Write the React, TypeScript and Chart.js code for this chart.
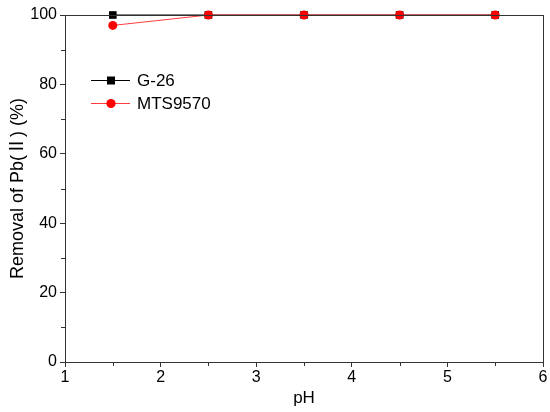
import React, { useEffect, useRef } from "react";
import { Chart, registerables } from "chart.js";

Chart.register(...registerables);

const phValues = [1.5, 2.5, 3.5, 4.5, 5.5];
const g26Values = [100, 100, 100, 100, 100];
const mtsValues = [97, 100, 100, 100, 100];
const seriesNames = ["G-26", "MTS9570"];
const xTitle = "pH";
const yTitle = "Removal of Pb(Ⅱ) (%)";

const FONT = "'Liberation Sans', Arial, 'Noto Sans CJK SC', sans-serif";

const framePlugin = {
  id: "frame",
  afterDraw(chart: any) {
    const { ctx, chartArea } = chart;
    const xs = chart.scales.x;
    const ys = chart.scales.y;
    ctx.save();
    ctx.fillStyle = "#333333";
    const L = Math.round(chartArea.left);
    const R = Math.round(chartArea.right);
    const T = Math.round(chartArea.top);
    const B = Math.round(chartArea.bottom);
    // frame top & right
    ctx.fillRect(L, T, R - L + 1, 1);
    ctx.fillRect(R, T, 1, B - T + 1);
    // minor ticks
    for (let v = 1.5; v < 6; v += 1) {
      const px = Math.round(xs.getPixelForValue(v));
      ctx.fillRect(px, B, 1, 4);
    }
    for (let v = 10; v < 100; v += 20) {
      const py = Math.round(ys.getPixelForValue(v));
      ctx.fillRect(L - 4, py, 4, 1);
    }
    ctx.restore();

    // legend
    const items = chart.data.datasets;
    const lx0 = 91;
    const lx1 = 130;
    const rows = [80, 103];
    items.forEach((ds: any, i: number) => {
      const y = rows[i];
      ctx.save();
      ctx.fillStyle = ds.borderColor;
      ctx.fillRect(lx0, y, lx1 - lx0, 1);
      ctx.fillStyle = ds.pointBackgroundColor;
      if (ds.pointStyle === "rect") {
        ctx.fillRect(111 - 4, y - 3.5, 8, 8);
      } else {
        ctx.beginPath();
        ctx.arc(111, y + 0.5, 4.6, 0, Math.PI * 2);
        ctx.fill();
      }
      ctx.fillStyle = "#000";
      ctx.font = "17px " + FONT;
      ctx.textBaseline = "middle";
      ctx.textAlign = "left";
      ctx.fillText(ds.label, 137, y + 1);
      ctx.restore();
    });
  },
};

export default function App() {
  const ref = useRef<HTMLCanvasElement | null>(null);
  useEffect(() => {
    if (!ref.current) return;
    const chart = new Chart(ref.current, {
      type: "scatter",
      data: {
        datasets: [
          {
            label: seriesNames[0],
            data: phValues.map((x, i) => ({ x, y: g26Values[i] })),
            showLine: true,
            clip: false,
            borderColor: "#000000",
            backgroundColor: "#000000",
            pointBackgroundColor: "#000000",
            pointBorderColor: "#000000",
            pointStyle: "rect",
            pointRadius: 5.4,
            borderWidth: 1,
            pointBorderWidth: 0,
            order: 1,
          },
          {
            label: seriesNames[1],
            data: phValues.map((x, i) => ({ x, y: mtsValues[i] })),
            showLine: true,
            clip: false,
            borderColor: "#ff3b3b",
            backgroundColor: "#ff0000",
            pointBackgroundColor: "#ff0000",
            pointBorderColor: "#ff0000",
            pointStyle: "circle",
            pointRadius: 4.5,
            borderWidth: 1,
            pointBorderWidth: 0,
            order: 0,
          },
        ],
      },
      options: {
        animation: false,
        responsive: false,
        maintainAspectRatio: false,
        layout: { padding: { top: 15, right: 7, left: 0, bottom: 0 } },
        plugins: { legend: { display: false }, tooltip: { enabled: false } },
        scales: {
          x: {
            type: "linear",
            min: 1,
            max: 6,
            afterFit: (s: any) => {
              s.height = 412 - 362;
            },
            ticks: { stepSize: 1, color: "#000", font: { size: 16, family: FONT }, padding: 1, maxRotation: 0 },
            grid: { drawOnChartArea: false, drawTicks: true, tickLength: 5, color: "#333333" },
            border: { display: true, color: "#333333", width: 1 },
            title: { display: true, text: xTitle, color: "#000", font: { size: 17, family: FONT }, padding: { top: 0, bottom: 3 } },
          },
          y: {
            min: 0,
            max: 100,
            afterFit: (s: any) => {
              s.width = 65;
            },
            ticks: { stepSize: 20, color: "#000", font: { size: 16, family: FONT }, padding: 3 },
            grid: { drawOnChartArea: false, drawTicks: true, tickLength: 5, color: "#333333" },
            border: { display: true, color: "#333333", width: 1 },
            title: { display: true, text: yTitle, color: "#000", font: { size: 18, family: FONT }, padding: { top: 7, bottom: 0 } },
          },
        },
      },
      plugins: [framePlugin],
    });
    return () => chart.destroy();
  }, []);
  return (
    <div style={{ position: "fixed", left: 0, top: 0, width: 550, height: 412, background: "#fff" }}>
      <canvas ref={ref} width={550} height={412} style={{ width: 550, height: 412 }} />
    </div>
  );
}
